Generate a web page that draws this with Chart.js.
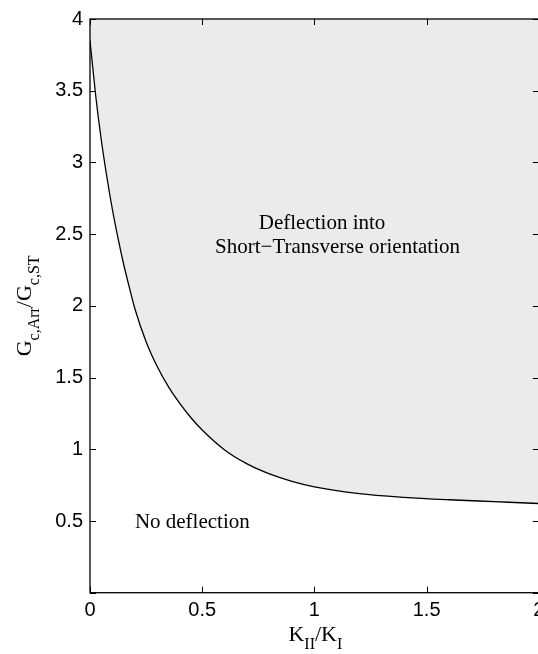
<!DOCTYPE html>
<html>
<head>
<meta charset="utf-8">
<script src="https://cdn.jsdelivr.net/npm/chart.js@4/dist/chart.umd.min.js"></script>
<style>
  html, body { margin: 0; padding: 0; background: #fff; overflow: hidden; }
  #wrap { width: 538px; height: 654px; overflow: hidden; position: relative; }
  canvas { display: block; }
</style>
</head>
<body>
<div id="wrap"><canvas id="c" width="562" height="654"></canvas></div>
<script>
// ---- data ----
const kRatio = [0, 0.025, 0.05, 0.075, 0.1, 0.125, 0.15, 0.175, 0.2, 0.25, 0.3, 0.35, 0.4, 0.45, 0.5, 0.6, 0.7, 0.8, 0.9, 1.0, 1.2, 1.4, 1.6, 1.8, 2.0];
const gRatio = [3.85, 3.47, 3.16, 2.90, 2.67, 2.47, 2.29, 2.13, 1.98, 1.75, 1.575, 1.435, 1.32, 1.22, 1.134, 0.995, 0.898, 0.828, 0.776, 0.738, 0.691, 0.665, 0.648, 0.635, 0.622];
const xTicks = [0, 0.5, 1, 1.5, 2];
const yTicks = [0, 0.5, 1, 1.5, 2, 2.5, 3, 3.5, 4];
const labelDeflect1 = 'Deflection into';
const labelDeflect2 = 'Short\u2212Transverse orientation';
const labelNoDeflect = 'No deflection';

const SANS = "'Liberation Sans', Arial, sans-serif";
const SERIF = "'Liberation Serif', 'Times New Roman', serif";

const annotations = [
  { text: labelDeflect1, x: 1.034, y: 2.537, align: 'center' },
  { text: labelDeflect2, x: 1.103, y: 2.368, align: 'center' },
  { text: labelNoDeflect, x: 0.2, y: 0.449, align: 'left' }
];

const MAIN_PX = 22, SUB_PX = 16, SUB_DROP = 8;
function drawSubText(ctx, parts, x, y) {
  let cx = x;
  for (const [t, sub] of parts) {
    ctx.font = (sub ? SUB_PX : MAIN_PX) + 'px ' + SERIF;
    ctx.fillText(t, cx, sub ? y + SUB_DROP : y);
    cx += ctx.measureText(t).width;
  }
}
function measureSubText(ctx, parts) {
  let w = 0;
  for (const [t, sub] of parts) {
    ctx.font = (sub ? SUB_PX : MAIN_PX) + 'px ' + SERIF;
    w += ctx.measureText(t).width;
  }
  return w;
}

const framePlugin = {
  id: 'frame',
  afterDatasetsDraw(chart) {
    const { ctx, chartArea: a, scales } = chart;
    const xs = scales.x, ys = scales.y;
    ctx.save();
    ctx.strokeStyle = '#000';
    ctx.lineWidth = 1.3;
    ctx.strokeRect(a.left, a.top, a.right - a.left, a.bottom - a.top);
    const tl = 6;
    ctx.lineWidth = 1;
    ctx.beginPath();
    for (const v of xTicks) {
      const px = Math.round(xs.getPixelForValue(v)) + 0.5;
      ctx.moveTo(px, a.bottom); ctx.lineTo(px, a.bottom - tl);
      ctx.moveTo(px, a.top); ctx.lineTo(px, a.top + tl);
    }
    for (const v of yTicks) {
      const py = Math.round(ys.getPixelForValue(v)) + 0.5;
      ctx.moveTo(a.left, py); ctx.lineTo(a.left + tl, py);
      ctx.moveTo(a.right, py); ctx.lineTo(a.right - tl, py);
    }
    ctx.stroke();

    // annotations
    ctx.fillStyle = '#000';
    ctx.font = '21px ' + SERIF;
    ctx.textBaseline = 'alphabetic';
    for (const an of annotations) {
      ctx.textAlign = an.align;
      ctx.fillText(an.text, xs.getPixelForValue(an.x), ys.getPixelForValue(an.y));
    }

    // x axis title K_II / K_I
    ctx.textAlign = 'left';
    const xParts = [['K', false], ['II', true], ['/K', false], ['I', true]];
    const xw = measureSubText(ctx, xParts);
    const xc = (a.left + 538.8) / 2;
    drawSubText(ctx, xParts, xc - xw / 2 + 1, 641);

    // y axis title G_{c,Arr}/G_{c,ST}
    const yParts = [['G', false], ['c,Arr', true], ['/G', false], ['c,ST', true]];
    const yw = measureSubText(ctx, yParts);
    ctx.translate(31, (a.top + a.bottom) / 2);
    ctx.rotate(-Math.PI / 2);
    drawSubText(ctx, yParts, -yw / 2, 0);
    ctx.restore();
  }
};

new Chart(document.getElementById('c'), {
  type: 'line',
  data: {
    datasets: [{
      data: kRatio.map((k, i) => ({ x: k, y: gRatio[i] })),
      borderColor: '#000',
      borderWidth: 1.3,
      pointRadius: 0,
      cubicInterpolationMode: 'monotone',
      fill: 'end',
      backgroundColor: 'rgb(235,235,235)'
    }]
  },
  options: {
    responsive: false,
    animation: false,
    devicePixelRatio: 1,
    layout: { padding: { left: 0, top: 16.7, right: 562 - 538.8, bottom: 0 } },
    plugins: { legend: { display: false }, tooltip: { enabled: false }, title: { display: false } },
    scales: {
      x: {
        type: 'linear', min: 0, max: 2,
        afterBuildTicks(s) { s.ticks = xTicks.map(v => ({ value: v })); },
        afterFit(s) { s.height = 654 - 592.7; },
        grid: { display: false, drawTicks: false },
        border: { display: false },
        ticks: {
          color: '#000', padding: 6, maxRotation: 0,
          font: { family: SANS, size: 20 },
          callback: v => String(v)
        }
      },
      y: {
        type: 'linear', min: 0, max: 4,
        afterBuildTicks(s) { s.ticks = yTicks.map(v => ({ value: v })); },
        afterFit(s) { s.width = 90; },
        grid: { display: false, drawTicks: false },
        border: { display: false },
        ticks: {
          color: '#000', padding: 7,
          font: { family: SANS, size: 20 },
          callback: v => (v === 0 ? '' : String(v))
        }
      }
    }
  },
  plugins: [framePlugin]
});
</script>
</body>
</html>
